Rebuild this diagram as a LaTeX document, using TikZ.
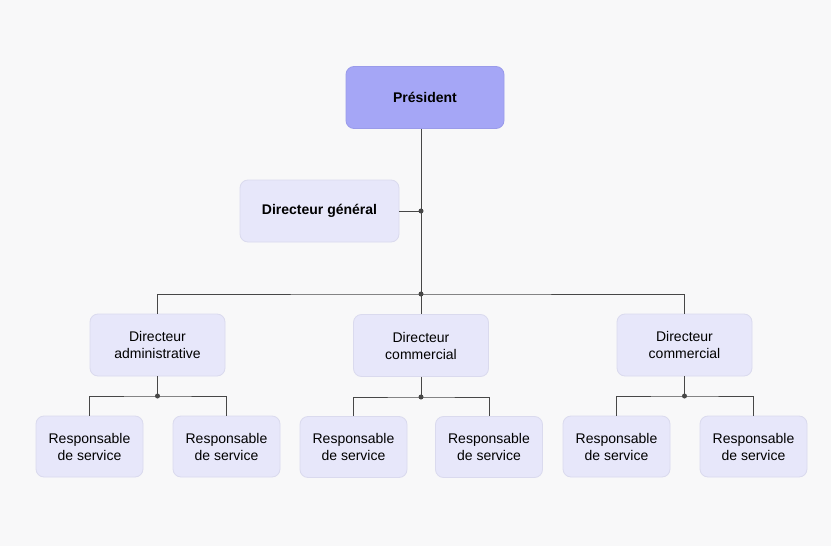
\documentclass[tikz,border=0pt]{standalone}
\usepackage{fontspec}
\setmainfont{Liberation Sans}
\definecolor{bgcol}{HTML}{F8F8F9}
\definecolor{topfill}{HTML}{A5A6F6}
\definecolor{topline}{HTML}{9A9BEA}
\definecolor{boxfill}{HTML}{E7E7FA}
\definecolor{boxline}{HTML}{DADAEE}
\definecolor{wire}{HTML}{474747}
\begin{document}
\begin{tikzpicture}[x=1pt, y=-1pt,
  role/.style={rectangle, rounded corners=8pt, draw=boxline, fill=boxfill, line width=.8pt,
    minimum width=135pt, minimum height=62pt, align=center, inner sep=2pt,
    font={\fontsize{14}{17}\selectfont}},
  head/.style={role, fill=topfill, draw=topline, minimum width=158pt,
    font={\fontsize{14}{17}\selectfont\bfseries}},
  chief/.style={role, minimum width=159pt, font={\fontsize{14}{17}\selectfont\bfseries}},
  staff/.style={role, minimum width=107pt, minimum height=61pt},
  link/.style={draw=wire, line width=1pt},
  joint/.style={circle, fill=wire, inner sep=0pt, minimum size=5pt}]
\fill[bgcol] (0,0) rectangle (831,546);
% top of the chart
\node[head] (pres) at (425,97.5) {Président};
\node[chief] (gen) at (319.5,211) {Directeur général};
% directors
\node[role] (adm) at (157.5,345) {Directeur\\administrative};
\node[role] (comA) at (421,345.5) {Directeur\\commercial};
\node[role] (comB) at (684.5,345) {Directeur\\commercial};
% service heads
\node[staff] (svcA) at (89.5,446.5) {Responsable\\de service};
\node[staff] (svcB) at (226.5,446.5) {Responsable\\de service};
\node[staff] (svcC) at (353.5,447) {Responsable\\de service};
\node[staff] (svcD) at (489,447) {Responsable\\de service};
\node[staff] (svcE) at (616.5,446.5) {Responsable\\de service};
\node[staff] (svcF) at (753.5,446.5) {Responsable\\de service};
% junctions
\coordinate (hub) at (421,211);
\coordinate (split) at (421,294);
\coordinate (jadm) at (157.5,396);
\coordinate (jcomA) at (421,397);
\coordinate (jcomB) at (684.5,396);
% connectors
\path[link] (pres.south -| hub) -- (split);
\path[link] (gen.east) -- (hub);
\path[link] (adm.north) |- (split) -| (comB.north);
\path[link] (split) -- (comA.north);
\path[link] (adm.south) -- (jadm);
\path[link] (svcA.north) |- (jadm) -| (svcB.north);
\path[link] (comA.south) -- (jcomA);
\path[link] (svcC.north) |- (jcomA) -| (svcD.north);
\path[link] (comB.south) -- (jcomB);
\path[link] (svcE.north) |- (jcomB) -| (svcF.north);
\node[joint] at (hub) {};
\node[joint] at (split) {};
\node[joint] at (jadm) {};
\node[joint] at (jcomA) {};
\node[joint] at (jcomB) {};
\end{tikzpicture}
\end{document}
